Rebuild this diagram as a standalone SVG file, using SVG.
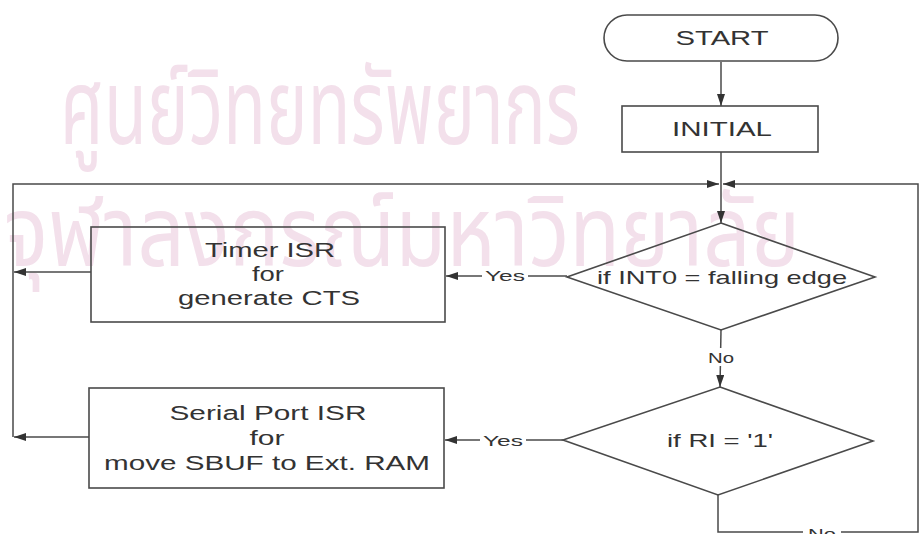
<svg xmlns="http://www.w3.org/2000/svg" width="920" height="534" viewBox="0 0 920 534">
  <style>
    .shape { fill: none; stroke: #4a4a4a; stroke-width: 1.6; }
    .wire { fill: none; stroke: #4a4a4a; stroke-width: 1.5; }
    .lbl { font-family: "Liberation Sans", Arial, sans-serif; fill: #333333; text-anchor: middle; }
    .main { font-size: 20px; }
    .cond { font-size: 19px; }
    .small { font-size: 15px; }
    .wm { font-family: "Noto Sans Thai", "Noto Sans", "DejaVu Sans", sans-serif; fill: #f3e0eb; }
  </style>
  <defs>
    <marker id="arrow" viewBox="0 0 12 8" refX="12" refY="4" markerWidth="12" markerHeight="8" markerUnits="userSpaceOnUse" orient="auto">
      <path d="M0,0 L12,4 L0,8 Z" fill="#333333"/>
    </marker>
  </defs>

  <rect width="920" height="534" fill="#ffffff"/>

  <!-- background watermark -->
  <g id="watermark">
    <text class="wm" x="60" y="144" font-size="106" textLength="520" lengthAdjust="spacingAndGlyphs">ศูนย์วิทยทรัพยากร</text>
    <text class="wm" x="4" y="266" font-size="98" textLength="796" lengthAdjust="spacingAndGlyphs">จุฬาลงกรณ์มหาวิทยาลัย</text>
  </g>

  <!-- connectors -->
  <g id="connectors">
    <line class="wire" x1="721" y1="62" x2="721" y2="106" marker-end="url(#arrow)"/>
    <line class="wire" x1="721" y1="152" x2="721" y2="223" marker-end="url(#arrow)"/>
    <!-- return bus on the left -->
    <polyline class="wire" points="13,437 13,184 719,184" marker-end="url(#arrow)"/>
    <line class="wire" x1="91" y1="272" x2="14" y2="272" marker-end="url(#arrow)"/>
    <line class="wire" x1="89" y1="437" x2="14" y2="437" marker-end="url(#arrow)"/>
    <!-- return path on the right -->
    <polyline class="wire" points="718,495 718,532 918,532 918,184 723,184" marker-end="url(#arrow)"/>
    <!-- decision branches -->
    <line class="wire" x1="567" y1="276" x2="446" y2="276" marker-end="url(#arrow)"/>
    <line class="wire" x1="721" y1="330" x2="720" y2="387" marker-end="url(#arrow)"/>
    <line class="wire" x1="563" y1="440" x2="445" y2="440" marker-end="url(#arrow)"/>
    <!-- branch labels -->
    <rect x="482" y="267" width="46" height="17" fill="#ffffff"/>
    <text class="lbl small" x="505" y="281" textLength="40" lengthAdjust="spacingAndGlyphs">Yes</text>
    <rect x="704" y="348" width="34" height="18" fill="#ffffff"/>
    <text class="lbl small" x="721" y="363" textLength="26" lengthAdjust="spacingAndGlyphs">No</text>
    <rect x="480" y="431" width="46" height="17" fill="#ffffff"/>
    <text class="lbl small" x="503" y="446" textLength="40" lengthAdjust="spacingAndGlyphs">Yes</text>
    <rect x="803" y="525" width="38" height="11" fill="#ffffff"/>
    <text class="lbl small" x="822" y="539" textLength="28" lengthAdjust="spacingAndGlyphs">No</text>
  </g>

  <g id="start">
    <rect class="shape" x="604" y="15" width="234" height="46" rx="23" ry="23"/>
    <text class="lbl main" x="722" y="45" textLength="93" lengthAdjust="spacingAndGlyphs">START</text>
  </g>

  <g id="initial">
    <rect class="shape" x="622" y="106" width="196" height="46"/>
    <text class="lbl main" x="722" y="136" textLength="100" lengthAdjust="spacingAndGlyphs">INITIAL</text>
  </g>

  <g id="check-int0">
    <polygon class="shape" points="721,223 875,277 721,330 567,277"/>
    <text class="lbl cond" x="722" y="284" textLength="250" lengthAdjust="spacingAndGlyphs">if INT0 = falling edge</text>
  </g>

  <g id="timer-isr">
    <rect class="shape" x="91" y="227" width="354" height="95"/>
    <text class="lbl main" x="270" y="257" textLength="130" lengthAdjust="spacingAndGlyphs">Timer ISR</text>
    <text class="lbl main" x="268" y="281" textLength="32" lengthAdjust="spacingAndGlyphs">for</text>
    <text class="lbl main" x="269" y="305" textLength="182" lengthAdjust="spacingAndGlyphs">generate CTS</text>
  </g>

  <g id="check-ri">
    <polygon class="shape" points="720,387 873,441 718,495 563,440"/>
    <text class="lbl cond" x="720" y="447" textLength="106" lengthAdjust="spacingAndGlyphs">if RI = '1'</text>
  </g>

  <g id="serial-isr">
    <rect class="shape" x="89" y="388" width="355" height="100"/>
    <text class="lbl main" x="268" y="420" textLength="197" lengthAdjust="spacingAndGlyphs">Serial Port ISR</text>
    <text class="lbl main" x="267" y="445" textLength="35" lengthAdjust="spacingAndGlyphs">for</text>
    <text class="lbl main" x="267" y="470" textLength="326" lengthAdjust="spacingAndGlyphs">move SBUF to Ext. RAM</text>
  </g>
</svg>
